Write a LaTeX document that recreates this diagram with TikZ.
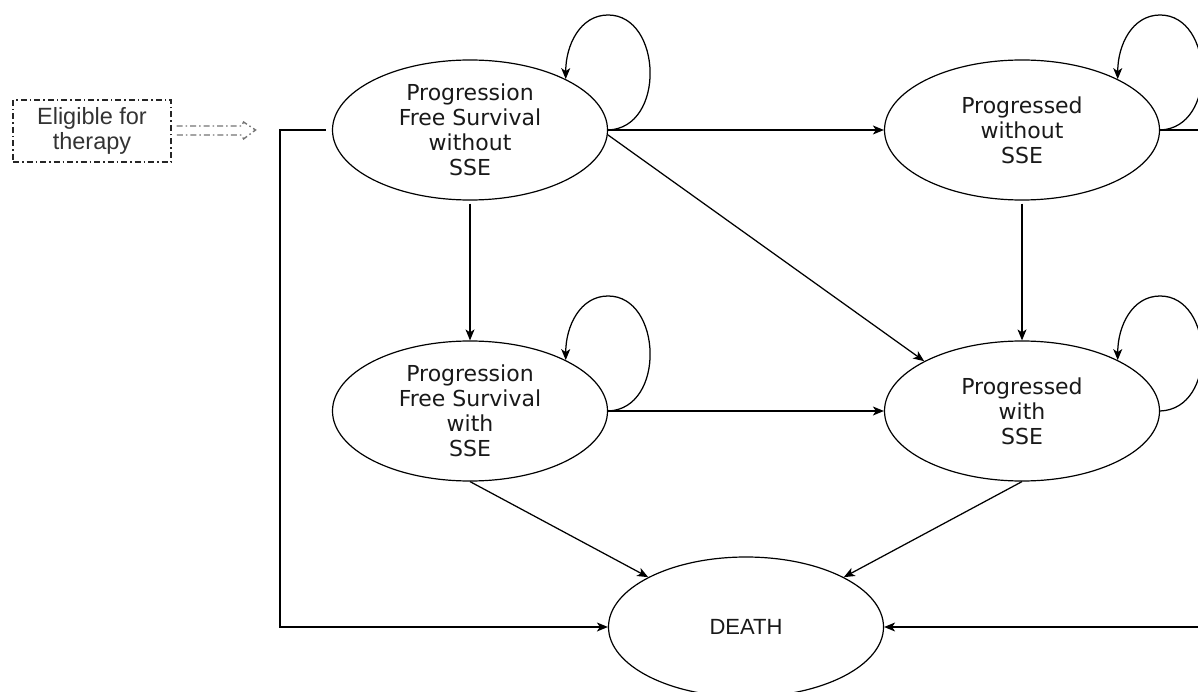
\documentclass[tikz,border=0pt]{standalone}
\usepackage{fontspec}
\setmainfont{DejaVu Sans}
\newfontfamily\arialf{Liberation Sans}
\usetikzlibrary{arrows.meta,calc,shapes.geometric}
\begin{document}
\begin{tikzpicture}[x=1pt,y=-1pt,
  state/.style={draw, ellipse, line width=1.2pt, minimum width=275pt, minimum height=140pt,
    inner sep=0pt, align=center, font=\fontsize{22}{25}\selectfont, text=black!90},
  arr/.style={-{Stealth[length=11pt,width=9pt,inset=3pt]}, line width=1.25pt},
  startbox/.style={draw=black!85, dash pattern=on 6pt off 3pt on 1.5pt off 3pt, line width=1.1pt,
    minimum width=158pt, minimum height=62pt, inner sep=0pt, align=center,
    font=\arialf\fontsize{23.5}{25}\selectfont, text=black!80},
  ghost/.style={draw=black!55, dash pattern=on 6pt off 3pt on 1.5pt off 3pt, line width=1.4pt},
  loopy/.style={arr}
]
\useasboundingbox (0,0) rectangle (1198,692);
\clip (0,0) rectangle (1198,692);

\node[state] (A) at (470,130) {Progression\\Free Survival\\without\\SSE};
\node[state] (B) at (1022,130) {Progressed\\without\\SSE};
\node[state] (C) at (470,411) {Progression\\Free Survival\\with\\SSE};
\node[state] (D) at (1022,411) {Progressed\\with\\SSE};
\node[state, font=\arialf\fontsize{22}{25}\selectfont] (E) at (746,627) {DEATH};
\node[startbox] (F) at (92,131) {Eligible for\\therapy};

% hollow dash-dot arrow from the start box
\draw[ghost] ($(F.east)+(5,-5)$) -- ++(65,0) -- ++(2,-4) -- ++(12,8) -- ++(-12,9) -- ++(-2,-4) -- ++(-65,0);

% self loops
\foreach \n in {A,B,C,D}{
  \draw[loopy] (\n.east) .. controls +(58,-2) and +(54,0) .. ($(\n.east)+(0,-115)$)
     .. controls +(-28,0) and +(0,-34) .. (\n.28);
}

% transitions
\draw[arr] (A.east) -- (B.west);
\draw[arr] (A.-2) -- (D.153);
\draw[arr, shorten <=3pt] (A.south) -- (C.north);
\draw[arr, shorten <=3pt] (B.south) -- (D.north);
\draw[arr] (C.east) -- (D.west);
\draw[arr] (C.south) -- (E.153);
\draw[arr] (D.south) -- (E.27);

\coordinate (lx) at (280,0);
\coordinate (rx) at (1215,0);
\draw[arr, shorten <=6pt] (A.west) -- (A.west -| lx) |- (E.west);
\draw[arr] (B.east) -- (B.east -| rx) |- (E.east);
\end{tikzpicture}
\end{document}
